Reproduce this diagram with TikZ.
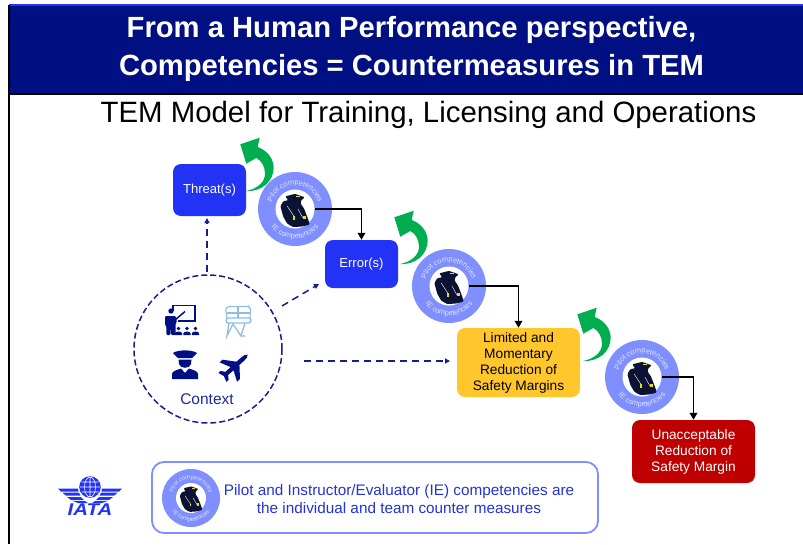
\documentclass[tikz,border=0pt]{standalone}
\usepackage{fontspec}
\setmainfont{Liberation Sans}
\usetikzlibrary{arrows.meta,decorations.text,calc}
\definecolor{navy}{HTML}{000F82}
\definecolor{brightblue}{HTML}{2233F5}
\definecolor{ringblue}{HTML}{7F8FFF}
\definecolor{ctxblue}{HTML}{1A2A9C}
\definecolor{dashblue}{HTML}{141E8C}
\definecolor{sunny}{HTML}{FFC72C}
\definecolor{crimson}{HTML}{BE0000}
\definecolor{leaf}{HTML}{00AE50}
\definecolor{figdark}{HTML}{0B1233}
\definecolor{simblue}{HTML}{8FBDE6}
\definecolor{textblue}{HTML}{2233D8}
\tikzset{
  box/.style={draw=none,rounded corners=8pt,inner sep=0pt,align=center,text=white,font=\fontsize{13.7}{16}\selectfont},
  shortbox/.style={box,font=\fontsize{13}{16}\selectfont},
  flow/.style={draw=black,line width=1.8pt,-{Triangle[length=7pt,width=7.5pt]}},
  dashflow/.style={draw=dashblue,line width=1.5pt,dash pattern=on 7pt off 5pt,-{Triangle[length=5pt,width=5pt]}},
  leafarrow/.style={fill=leaf,draw=none},
  icon/.style={fill=navy,draw=none},
}
\newcommand\leafshape[2]{%
  \fill[leafarrow,shift={(#1,#2)},yscale=-1] (0,0) .. controls (16,1) and (28,-10) .. (27.7,-24)
    .. controls (27,-34) and (20,-41) .. (11.7,-44) -- (13.7,-53.3) -- (-5.7,-46.7) -- (0.3,-27.3)
    -- (10.3,-33) .. controls (16,-30) and (19,-24) .. (19,-17) .. controls (19,-9) and (11,-2) .. (0,0) -- cycle;
}
\newcommand\badge[6]{%
  \pgfmathsetmacro\bs{#5/20}%
  \pgfmathsetmacro\rtop{#4*0.65}%
  \pgfmathsetmacro\rbot{#4*0.80}%
  \def\bfnt{\fontsize{#6}{#6}\selectfont\color{white!75!ringblue}}%
  \node[circle,fill=ringblue,minimum size=2*#4,inner sep=0pt] (#1) at (#2,#3) {};
  \node[circle,fill=white,minimum size=2*#5,inner sep=0pt] (#1in) at (#1) {};
  \path[decorate,decoration={text along path,text align=center,text={|\bfnt|Pilot competencies}}]
    ($(#1)+(185:\rtop pt)$) arc[start angle=185,end angle=-5,radius=\rtop pt];
  \path[decorate,decoration={text along path,text align=center,text={|\bfnt|IE competencies}}]
    ($(#1)+(190:\rbot pt)$) arc[start angle=190,end angle=350,radius=\rbot pt];
  \begin{scope}[shift={(#1)},scale=\bs]
    \fill[figdark,rounded corners=1pt] (-10,13) -- (0,15.5) -- (10,12) -- (6,8.5) -- (6,5) -- (9,1) -- (11,-4) -- (14,-12) -- (15,-16)
      -- (7,-18) -- (-2,-18.5) -- (-8,-15) -- (-12,-8) -- (-15,3) -- (-12,8) -- (-7,9) -- cycle;
    \draw[white,line width=0.4pt] (-8,3) -- (0,-9) (3,0) -- (8,-9);
    \fill[yellow!90!black] (-2,-11) rectangle (0.5,-7.5);
    \fill[yellow!90!black] (8,-10) rectangle (11,-7);
    \fill[yellow!90!black] (1,13) rectangle (5,12);
  \end{scope}
}
\begin{document}
\begin{tikzpicture}[x=1pt,y=1pt]
\useasboundingbox (0,0) rectangle (803,-544);
% header
\fill[navy] (9,-5) rectangle (803,-92.5);
\fill[brightblue] (9,-4) rectangle (803,-6);
\draw[black,line width=2pt] (9,-93.5) -- (803,-93.5);
\draw[black,line width=2pt] (9,-5) -- (9,-544);
\node[font=\bfseries\fontsize{29.2}{38}\selectfont,text=white,align=center,inner sep=0pt] (head) at (411.5,-48.5)
  {From a Human Performance perspective,\\Competencies = Countermeasures in TEM};
\node[font=\fontsize{29.4}{32}\selectfont,text=black,inner sep=0pt] (subtitle) at (428.5,-115)
  {TEM Model for Training, Licensing and Operations};
% boxes
\node[shortbox,fill=brightblue,minimum width=73pt,minimum height=52pt] (threat) at (209.5,-190) {Threat(s)};
\node[shortbox,fill=brightblue,minimum width=73pt,minimum height=48pt] (error) at (361.5,-264) {Error(s)};
\node[box,fill=sunny,text=black,minimum width=123pt,minimum height=69pt] (limited) at (518.5,-362.5)
  {Limited and\\Momentary\\Reduction of\\Safety Margins};
\node[box,fill=crimson,minimum width=123pt,minimum height=63pt] (unacc) at (693.5,-451.5)
  {Unacceptable\\Reduction of\\Safety Margin};
% green arrows
\leafshape{246}{-191}
\leafshape{400}{-264}
\leafshape{583}{-361}
% badges
\badge{ba}{295}{-209}{37}{19.5}{7.4}
\badge{bb}{449}{-286}{37}{19.5}{7.4}
\badge{bc}{642}{-377}{37}{19.5}{7.4}
\draw[flow] (bain.east) -| (error.north) ;
\draw[flow] (bbin.east) -| (limited.north);
\draw[flow] (bcin.east) -| (unacc.north);
% context
\node[circle,draw=dashblue,line width=1.5pt,dash pattern=on 6pt off 3pt,minimum size=148pt,inner sep=0pt] (ctx) at (208,-349) {};
\node[text=ctxblue,font=\fontsize{15.5}{18}\selectfont,inner sep=0pt] (ctxlabel) at (207,-399.5) {Context};
\coordinate (ctxup) at (207,-272);
\coordinate (ctxdiag) at (282,-306);
\coordinate (ctxright) at (304,-361);
\coordinate (limitedin) at (450,-361);
\coordinate (threatin) at (207,-218);
\coordinate (errorin) at (319,-284);
\draw[dashflow] (ctxup) -- (threatin);
\draw[dashflow] (ctxdiag) -- (errorin);
\draw[dashflow] (ctxright) -- (limitedin);
% instructor icon
\draw[navy,line width=1.2pt] (173,-311) -- (173,-305.5) -- (195,-305.5) -- (195,-321) -- (178,-321);
\fill[icon] (171,-311) circle (2.7);
\draw[navy,line width=1.5pt] (175,-320) -- (185,-311.5);
\fill[icon,rounded corners=1pt] (165,-316) -- (175.5,-316) -- (177,-321) -- (175.5,-324) -- (175.5,-335) -- (171.2,-335) -- (171,-326) -- (170.4,-335) -- (166.3,-335) -- (166.3,-326) -- (165,-325) -- cycle;
\foreach \ax in {178.5,187,195.5}{
  \fill[icon] (\ax,-328.5) circle (1.9);
  \fill[icon] (\ax-3.6,-335) -- (\ax-3.6,-333.2) .. controls (\ax-3,-331) and (\ax+3,-331) .. (\ax+3.6,-333.2) -- (\ax+3.6,-335) -- cycle;
}
% simulator icon
\draw[simblue,line width=1.1pt,rounded corners=1.5pt] (227,-318) -- (225.5,-309) -- (228,-306.5) -- (249,-306.5) -- (250.5,-309) -- (250,-318);
\draw[simblue,line width=1.1pt] (238,-306.5) -- (238,-318) (227,-313) -- (250,-313);
\draw[simblue,line width=1.3pt,rounded corners=2.5pt] (226,-318) rectangle (251,-323);
\draw[simblue,line width=1.3pt] (229,-323) -- (227,-336) -- (233,-324) -- (241,-336) -- (245,-323) (241,-336) -- (245,-336);
% pilot icon
\fill[icon] (173,-353) .. controls (178,-349.5) and (192,-349.5) .. (197,-353) -- (192,-358) -- (178,-358) -- cycle;
\fill[icon] (178.5,-359.5) -- (191.5,-359.5) -- (191,-364) .. controls (190,-369) and (180,-369) .. (179,-364) -- cycle;
\fill[icon] (172,-379) -- (172,-374) .. controls (172,-371) and (177,-370) .. (181,-368.5) -- (185,-373) -- (189,-368.5) .. controls (193,-370) and (198,-371) .. (198,-374) -- (198,-379) -- cycle;
% plane icon
\begin{scope}[shift={(235,-366)},rotate=42]
  \fill[icon] (17,0) .. controls (16,1.8) and (13,2.2) .. (10,2.2) -- (4,2.2) -- (-5,13) -- (-9,13) -- (-4,2.2) -- (-11,2) -- (-14,6) -- (-17,6) -- (-15,0)
     -- (-17,-6) -- (-14,-6) -- (-11,-2) -- (-4,-2.2) -- (-9,-13) -- (-5,-13) -- (4,-2.2) -- (10,-2.2) .. controls (13,-2.2) and (16,-1.8) .. (17,0) -- cycle;
\end{scope}
% legend
\node[draw=ringblue,line width=1.8pt,rounded corners=12pt,minimum width=446pt,minimum height=71pt,inner sep=0pt] (legend) at (375,-497.5) {};
\badge{bd}{191}{-498}{29}{15}{5.8}
\node[text=textblue,font=\fontsize{15.3}{18.2}\selectfont,align=center,inner sep=0pt] (legendtext) at (399,-499)
  {Pilot and Instructor/Evaluator (IE) competencies are\\the individual and team counter measures};
% IATA logo
\fill[brightblue] (90,-487) circle (10.8);
\draw[white,line width=0.6pt] (90,-487) circle (5.5 and 10) (90,-477) -- (90,-497) (80,-487) -- (100,-487) (81.5,-482) -- (98.5,-482) (81.5,-492) -- (98.5,-492);
\foreach \sx in {1,-1}{
  \begin{scope}[xshift=90pt,xscale=\sx]
    \fill[brightblue] (12,-488.5) -- (32,-488.5) -- (29,-491.5) -- (11.5,-491.5) -- cycle;
    \fill[brightblue] (11,-492.7) -- (27.5,-492.7) -- (24,-495.7) -- (9.5,-495.7) -- cycle;
    \fill[brightblue] (9,-497) -- (23,-497) -- (19,-500) -- (6,-500) -- cycle;
    \fill[brightblue] (5,-501) -- (17.5,-501) -- (12,-503) -- (2,-503) -- cycle;
  \end{scope}
}
\node[text=brightblue,font=\bfseries\itshape\fontsize{17}{17}\selectfont,inner sep=0pt,xscale=1.2,transform shape] (iata) at (90,-510) {IATA};
\end{tikzpicture}
\end{document}
